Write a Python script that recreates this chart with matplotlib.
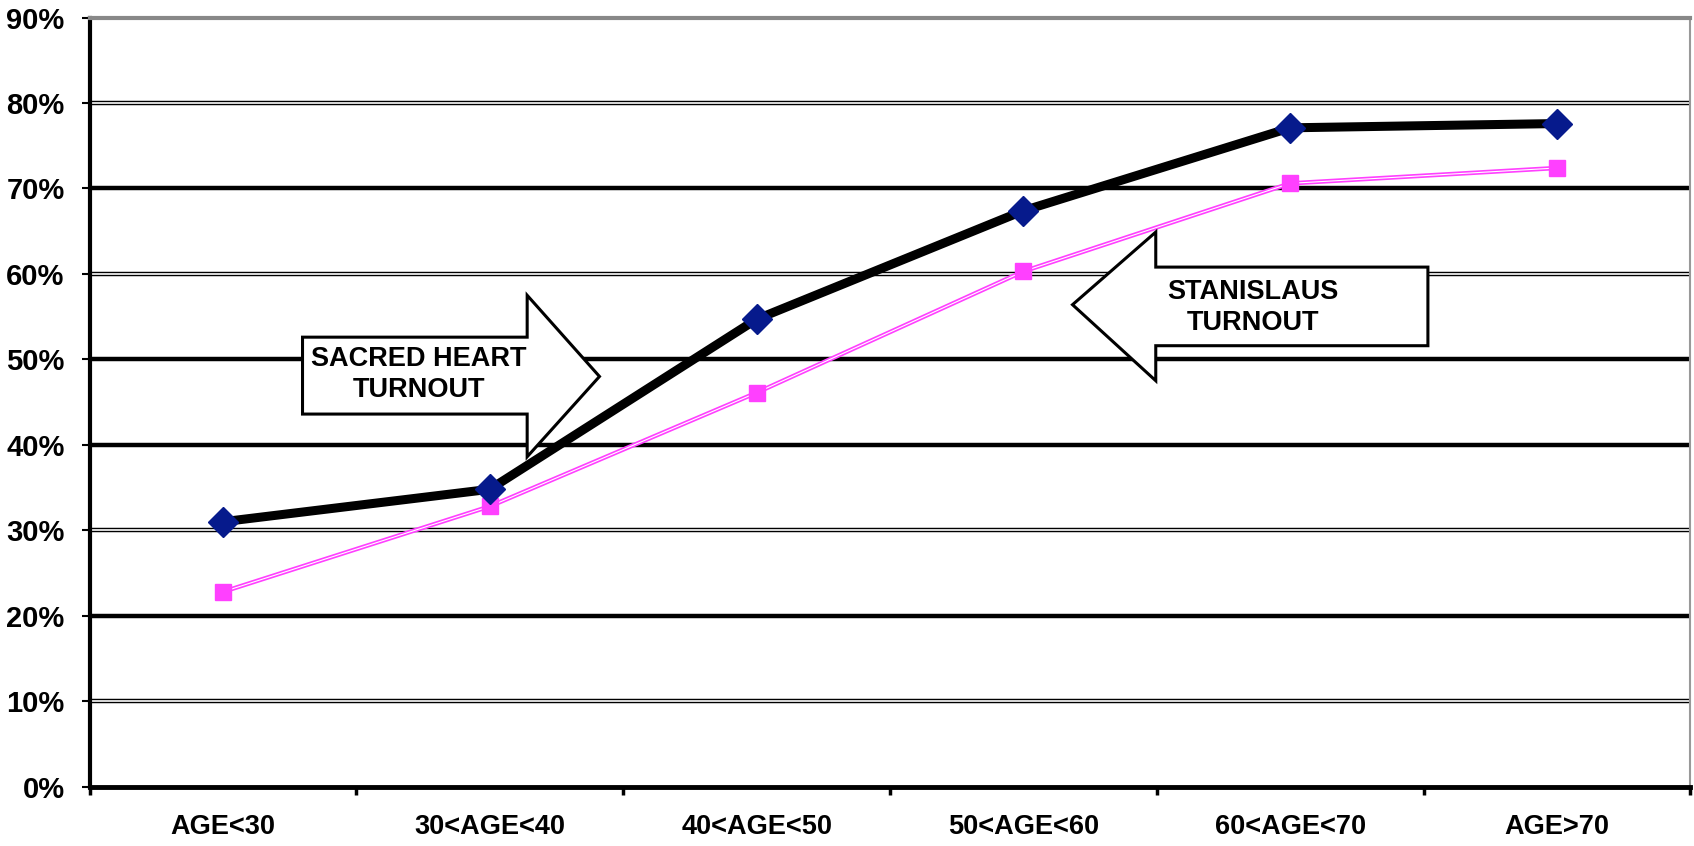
import matplotlib.pyplot as plt
from matplotlib.patches import Polygon

plt.rcParams['font.family'] = ['Liberation Sans', 'DejaVu Sans']
plt.rcParams['font.weight'] = 'bold'

# data (percent)
categories = ['AGE<30', '30<AGE<40', '40<AGE<50', '50<AGE<60', '60<AGE<70', 'AGE>70']
sacred_heart = [31.0, 34.8, 54.7, 67.4, 77.1, 77.6]
stanislaus = [22.8, 32.8, 46.1, 60.3, 70.6, 72.4]
y_ticks = [0, 10, 20, 30, 40, 50, 60, 70, 80, 90]
double_grid = [10, 30, 60, 80]
thick_grid = [20, 40, 50, 70]

fig = plt.figure(figsize=(16.94, 8.46), dpi=100)
ax = fig.add_axes([0.0529, 0.0702, 0.945, 0.909])

x = list(range(len(categories)))

# gridlines
for g in thick_grid:
    ax.axhline(g, color='black', lw=3.2, zorder=1)
for g in double_grid:
    ax.axhline(g, color='black', lw=3.2, zorder=1)
    ax.axhline(g, color='white', lw=1.2, zorder=1.1)

# stanislaus line (double thin magenta)
ax.plot(x, stanislaus, color='#ff40ff', lw=3.2, zorder=3)
ax.plot(x, stanislaus, color='white', lw=0.8, zorder=3.1)
ax.plot(x, stanislaus, ls='none', marker='s', ms=11, color='#ff40ff',
        markeredgecolor='#ff40ff', zorder=3.2)

# sacred heart line
ax.plot(x, sacred_heart, color='black', lw=6.5, zorder=4)
ax.plot(x, sacred_heart, ls='none', marker='D', ms=15, color='#061a8c',
        markeredgecolor='#061a8c', zorder=4.2)

# arrows with labels
sh_arrow = [(0.298, 52.6), (1.140, 52.6), (1.140, 57.5), (1.411, 48.0),
            (1.140, 38.6), (1.140, 43.6), (0.298, 43.6)]
st_arrow = [(4.516, 60.8), (3.496, 60.8), (3.496, 64.9), (3.184, 56.4),
            (3.496, 47.5), (3.496, 51.6), (4.516, 51.6)]
for pts in (sh_arrow, st_arrow):
    ax.add_patch(Polygon(pts, closed=True, facecolor='white', edgecolor='black',
                         lw=2.2, zorder=5))
ax.text(0.735, 48.2, 'SACRED HEART\nTURNOUT', ha='center', va='center',
        fontsize=19.5, fontweight='bold', linespacing=1.25, zorder=6)
ax.text(3.86, 56.1, 'STANISLAUS\nTURNOUT', ha='center', va='center',
        fontsize=19.5, fontweight='bold', linespacing=1.25, zorder=6)

# axes
ax.set_xlim(-0.5, 5.5)
ax.set_ylim(0, 90)
ax.set_yticks(y_ticks)
ax.set_yticklabels([f'{v}%' for v in y_ticks], fontsize=21, fontweight='bold')
ax.set_xticks(x)
ax.set_xticklabels(categories, fontsize=19.5, fontweight='bold')
ax.tick_params(axis='x', which='major', length=0, pad=20)
ax.set_xticks([i - 0.5 for i in range(len(categories) + 1)], minor=True)
ax.tick_params(axis='x', which='minor', length=6, width=2.5, direction='out')
ax.tick_params(axis='y', length=6, width=1.5, pad=12)

ax.spines['left'].set_linewidth(3)
ax.spines['bottom'].set_linewidth(3.5)
ax.spines['top'].set_color('#888888')
ax.spines['top'].set_linewidth(3)
ax.spines['right'].set_color('#999999')
ax.spines['right'].set_linewidth(1.5)

fig.savefig('out.png', dpi=100)
